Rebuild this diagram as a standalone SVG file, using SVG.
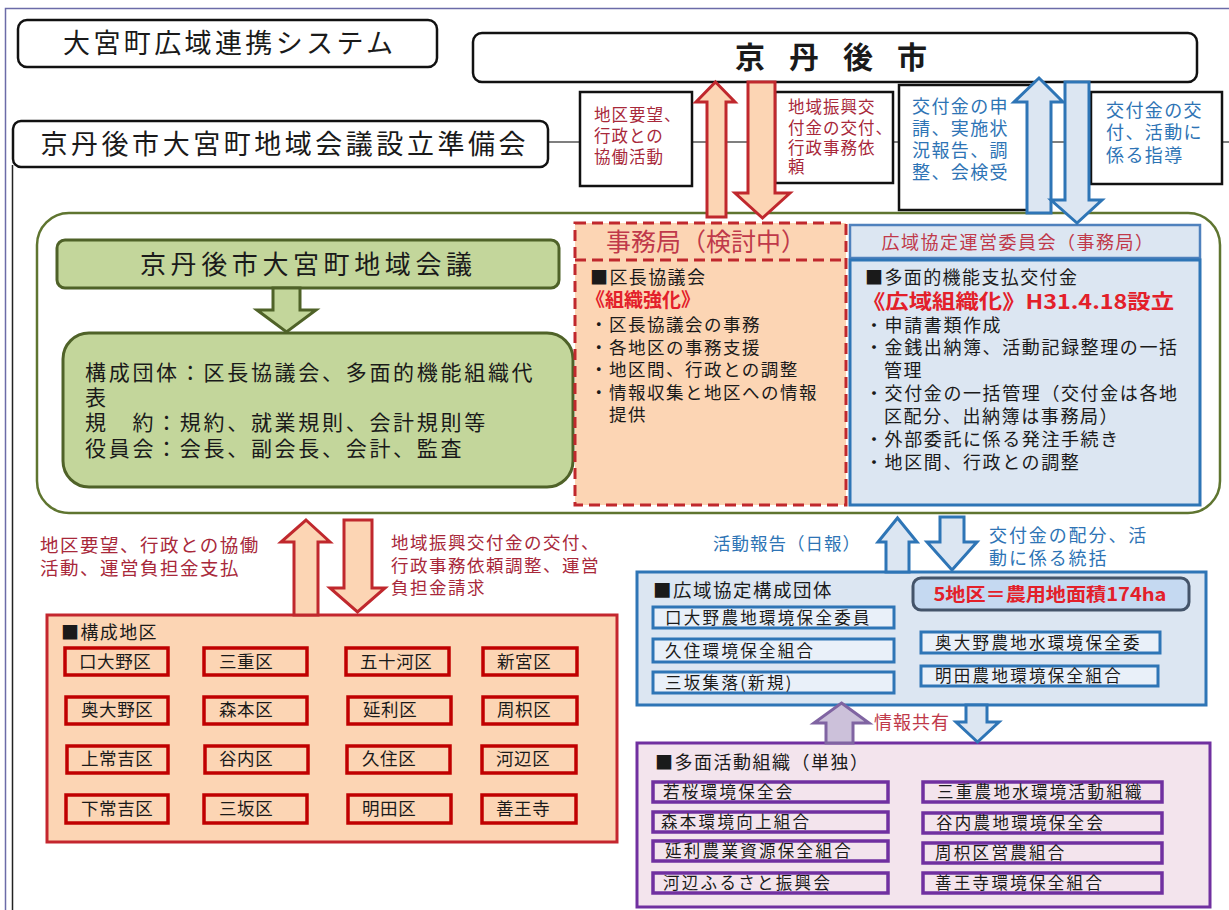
<svg xmlns="http://www.w3.org/2000/svg" width="1229" height="910" viewBox="0 0 1229 910">
<style>
text{font-family:"Noto Sans CJK JP","Noto Sans CJK SC",sans-serif;fill:#1a1a1a}
.ttl{stroke:#111;stroke-width:2.5;fill:#fff}
.tb{stroke:#111;stroke-width:2.5;fill:#fff}
.mr{fill:#a8283a}
.bl{fill:#2e74b5}
.rd{fill:#e3202a;font-weight:bold}
.cr{fill:#c0394a}
.dist{fill:#fcd5b4;stroke:#c00000;stroke-width:3.5}
.mem{fill:#e9f0f9;stroke:#2e75b6;stroke-width:3}
.pur{fill:#f3e4ed;stroke:#7030a0;stroke-width:3.5}
.aR{fill:#fcd5b4;stroke:#c0282d;stroke-width:3}
.aB{fill:#dce6f2;stroke:#2e75b6;stroke-width:3}
.aG{fill:#c3d69b;stroke:#4f6228;stroke-width:3}
.aP{fill:#ccc1da;stroke:#8064a2;stroke-width:3}
.f18{font-size:17.5px;letter-spacing:0.6px}
.b18{font-size:18px;letter-spacing:1.4px}
.f17{font-size:16.5px;letter-spacing:2.3px}
</style>

<!-- frame -->
<g id="frame">
<path d="M5.5,910 V8.5 H1229" fill="none" stroke="#6b6ba8" stroke-width="1.5"/>
<path d="M12.5,165 V910" fill="none" stroke="#222" stroke-width="1.5"/>
<path d="M548,142 H1229" fill="none" stroke="#555" stroke-width="1.5"/>
</g>

<g id="title">
<rect class="ttl" x="18" y="20" width="419" height="47" rx="9"/>
<text x="228" y="53" font-size="27" text-anchor="middle" textLength="330" lengthAdjust="spacing">大宮町広域連携システム</text>
</g>

<g id="city">
<rect class="ttl" x="473" y="33" width="724" height="49" rx="9"/>
<text x="735" y="68" font-size="30" font-weight="bold" letter-spacing="24">京丹後市</text>
</g>

<g id="prep">
<rect class="ttl" x="13" y="121" width="535" height="46" rx="8"/>
<text x="283" y="154" font-size="27" text-anchor="middle" textLength="485" lengthAdjust="spacing">京丹後市大宮町地域会議設立準備会</text>
</g>

<!-- top label boxes -->
<g id="lbl1">
<rect class="tb" x="580" y="92" width="112" height="94"/>
<text class="mr" font-size="16.5" letter-spacing="1"><tspan x="594" y="121">地区要望、</tspan><tspan x="594" y="142">行政との</tspan><tspan x="594" y="163">協働活動</tspan></text>
</g>
<g id="lbl2">
<rect class="tb" x="775" y="92" width="118" height="91"/>
<text class="mr" font-size="16.5" letter-spacing="1"><tspan x="788" y="113">地域振興交</tspan><tspan x="788" y="134">付金の交付、</tspan><tspan x="788" y="154">行政事務依</tspan><tspan x="788" y="173">頼</tspan></text>
</g>
<g id="lbl3">
<rect class="tb" x="899" y="85" width="140" height="125"/>
<text class="bl b18"><tspan x="912" y="113">交付金の申</tspan><tspan x="912" y="135">請、実施状</tspan><tspan x="912" y="157">況報告、調</tspan><tspan x="912" y="179">整、会検受</tspan></text>
</g>
<g id="lbl4">
<rect class="tb" x="1091" y="92" width="131" height="92"/>
<text class="bl b18"><tspan x="1106" y="117">交付金の交</tspan><tspan x="1106" y="139">付、活動に</tspan><tspan x="1106" y="162">係る指導</tspan></text>
</g>

<!-- main container -->
<g id="council">
<rect x="37" y="213" width="1183" height="300" rx="32" fill="#fff" stroke="#5f7530" stroke-width="2.5"/>
</g>

<g id="council-head">
<rect x="57" y="240" width="502" height="48" rx="8" fill="#c3d69b" stroke="#4f6228" stroke-width="3"/>
<text x="306" y="274" font-size="26" text-anchor="middle" textLength="332" lengthAdjust="spacing">京丹後市大宮町地域会議</text>
</g>

<g id="council-body">
<rect x="63" y="333" width="510" height="154" rx="26" fill="#c3d69b" stroke="#4f6228" stroke-width="3"/>
<text font-size="21" letter-spacing="2.7"><tspan x="85" y="380">構成団体：区長協議会、多面的機能組織代</tspan><tspan x="85" y="405">表</tspan><tspan x="85" y="430">規　約：規約、就業規則、会計規則等</tspan><tspan x="85" y="456">役員会：会長、副会長、会計、監査</tspan></text>
</g>

<g id="secretariat">
<rect x="575" y="223" width="271" height="282" fill="#fcd5b4" stroke="#c0282d" stroke-width="3" stroke-dasharray="11 6"/>
<path d="M575,260 H846" stroke="#c0282d" stroke-width="3" stroke-dasharray="11 6"/>
<text class="cr" x="706" y="251" font-size="25" text-anchor="middle">事務局（検討中）</text>
<text class="b18" x="590" y="284">■区長協議会</text>
<text class="rd" x="586" y="307" font-size="19">《組織強化》</text>
<text font-size="17.5" letter-spacing="1.5"><tspan x="590" y="331">・区長協議会の事務</tspan><tspan x="590" y="354">・各地区の事務支援</tspan><tspan x="590" y="376">・地区間、行政との調整</tspan><tspan x="590" y="399">・情報収集と地区への情報</tspan><tspan x="609" y="421">提供</tspan></text>
</g>

<g id="committee">
<rect x="850" y="225" width="350" height="33" fill="#dce6f2" stroke="#4f81bd" stroke-width="2.5"/>
<text class="cr" x="1018" y="249" font-size="18" letter-spacing="1.5" text-anchor="middle">広域協定運営委員会（事務局）</text>
<rect x="850" y="260" width="350" height="245" fill="#dce6f2" stroke="#2e75b6" stroke-width="3"/>
<text class="b18" x="865" y="284">■多面的機能支払交付金</text>
<text class="rd" x="862" y="309" font-size="20" textLength="312" lengthAdjust="spacingAndGlyphs">《広域組織化》H31.4.18設立</text>
<text font-size="18" letter-spacing="1.6"><tspan x="865" y="332">・申請書類作成</tspan><tspan x="865" y="354">・金銭出納簿、活動記録整理の一括</tspan><tspan x="884" y="377">管理</tspan><tspan x="865" y="400">・交付金の一括管理（交付金は各地</tspan><tspan x="884" y="423">区配分、出納簿は事務局）</tspan><tspan x="865" y="446">・外部委託に係る発注手続き</tspan><tspan x="865" y="469">・地区間、行政との調整</tspan></text>
</g>

<!-- districts -->
<g id="districts">
<rect x="47" y="615" width="570" height="227" fill="#fcd5b4" stroke="#c4262e" stroke-width="3"/>
<text class="b18" x="61" y="639">■構成地区</text>
<g class="f18">
<rect class="dist" x="65" y="648" width="103" height="27"/><text x="79" y="668">口大野区</text>
<rect class="dist" x="204" y="648" width="103" height="27"/><text x="219" y="668">三重区</text>
<rect class="dist" x="346" y="648" width="103" height="27"/><text x="360" y="668">五十河区</text>
<rect class="dist" x="483" y="648" width="94" height="27"/><text x="497" y="668">新宮区</text>
<rect class="dist" x="66" y="697" width="102" height="27"/><text x="81" y="716">奥大野区</text>
<rect class="dist" x="204" y="697" width="103" height="27"/><text x="219" y="716">森本区</text>
<rect class="dist" x="348" y="697" width="103" height="27"/><text x="363" y="716">延利区</text>
<rect class="dist" x="483" y="697" width="94" height="27"/><text x="497" y="716">周枳区</text>
<rect class="dist" x="67" y="746" width="101" height="27"/><text x="81" y="765">上常吉区</text>
<rect class="dist" x="205" y="746" width="103" height="27"/><text x="219" y="765">谷内区</text>
<rect class="dist" x="347" y="746" width="103" height="27"/><text x="362" y="765">久住区</text>
<rect class="dist" x="482" y="746" width="94" height="27"/><text x="496" y="765">河辺区</text>
<rect class="dist" x="66" y="795" width="102" height="28"/><text x="81" y="815">下常吉区</text>
<rect class="dist" x="204" y="795" width="103" height="28"/><text x="219" y="815">三坂区</text>
<rect class="dist" x="348" y="795" width="103" height="28"/><text x="362" y="815">明田区</text>
<rect class="dist" x="482" y="795" width="94" height="28"/><text x="496" y="815">善王寺</text>
</g>
</g>

<!-- wide-area group -->
<g id="wide-members">
<rect x="637" y="572" width="569" height="133" fill="#dce6f2" stroke="#2e75b6" stroke-width="3"/>
<text x="653" y="597" font-size="18.5" letter-spacing="1.5">■広域協定構成団体</text>
<rect x="913" y="578" width="276" height="32" rx="8" fill="#c5d9f1" stroke="#44546a" stroke-width="3"/>
<text class="rd" x="1050" y="601" font-size="18" text-anchor="middle" textLength="233" lengthAdjust="spacingAndGlyphs">5地区＝農用地面積174ha</text>
<g class="f17">
<rect class="mem" x="653" y="607" width="241" height="21"/><text x="665" y="624">口大野農地環境保全委員</text>
<rect class="mem" x="653" y="639" width="241" height="23"/><text x="665" y="657">久住環境保全組合</text>
<rect class="mem" x="653" y="672" width="241" height="21"/><text x="665" y="689">三坂集落(新規)</text>
<rect class="mem" x="921" y="632" width="239" height="21"/><text x="935" y="649">奥大野農地水環境保全委</text>
<rect class="mem" x="921" y="666" width="237" height="20"/><text x="935" y="682">明田農地環境保全組合</text>
</g>
</g>

<g id="multi-orgs">
<rect x="637" y="743" width="573" height="164" fill="#f3e4ed" stroke="#7030a0" stroke-width="3"/>
<text x="655" y="769" font-size="18" letter-spacing="1.5">■多面活動組織（単独）</text>
<g class="f17">
<rect class="pur" x="653" y="782" width="235" height="20"/><text x="663" y="798">若桜環境保全会</text>
<rect class="pur" x="653" y="812" width="235" height="20"/><text x="661" y="828">森本環境向上組合</text>
<rect class="pur" x="653" y="841" width="235" height="20"/><text x="665" y="857">延利農業資源保全組合</text>
<rect class="pur" x="653" y="873" width="235" height="20"/><text x="663" y="889">河辺ふるさと振興会</text>
<rect class="pur" x="923" y="782" width="239" height="20"/><text x="937" y="798">三重農地水環境活動組織</text>
<rect class="pur" x="923" y="813" width="239" height="20"/><text x="936" y="829">谷内農地環境保全会</text>
<rect class="pur" x="923" y="843" width="239" height="20"/><text x="935" y="859">周枳区営農組合</text>
<rect class="pur" x="923" y="873" width="239" height="20"/><text x="935" y="889">善王寺環境保全組合</text>
</g>
</g>

<!-- connector labels -->
<g id="connector-labels">
<text class="mr" font-size="18.5" letter-spacing="1.5"><tspan x="40" y="552">地区要望、行政との協働</tspan><tspan x="40" y="575">活動、運営負担金支払</tspan></text>
<text class="mr" font-size="17.5" letter-spacing="1.5"><tspan x="391" y="549">地域振興交付金の交付、</tspan><tspan x="391" y="572">行政事務依頼調整、運営</tspan><tspan x="391" y="594">負担金請求</tspan></text>
<text class="bl" x="713" y="550" font-size="17.5" letter-spacing="1">活動報告（日報）</text>
<text class="bl" font-size="18" letter-spacing="1.9"><tspan x="989" y="542">交付金の配分、活</tspan><tspan x="989" y="565">動に係る統括</tspan></text>
<text class="cr" x="874" y="729" font-size="18" letter-spacing="1">情報共有</text>
</g>

<!-- connectors -->
<g id="connectors">
<polygon class="aR" points="715.5,82 735,102 726,102 726,217 707,217 707,102 696,102"/>
<polygon class="aR" points="748,82 775,82 775,193 790,193 762.5,218 735,193 748,193"/>
<polygon class="aB" points="1039,78 1063,102 1051,102 1051,213 1027,213 1027,102 1014,102"/>
<polygon class="aB" points="1065,82 1089,82 1089,200 1102,200 1077,223 1051,200 1065,200"/>
<polygon class="aG" points="273,288 300,288 300,310 316,310 286.5,332 257,310 273,310"/>
<polygon class="aR" points="306,520 330,542 318,542 318,615 294,615 294,542 281,542"/>
<polygon class="aR" points="344,520 372,520 372,588 385,588 357.5,612 330,588 344,588"/>
<polygon class="aB" points="897.5,518 917,542 909,542 909,572 886,572 886,542 878,542"/>
<polygon class="aB" points="940,517 964,517 964,542 977,542 952,570 927,542 940,542"/>
<polygon class="aP" points="841.5,703 869,723 853,723 853,743 826,743 826,723 814,723"/>
<polygon class="aB" points="966,705 987,705 987,722 999,722 977.5,742 956,722 966,722"/>
</g>
</svg>
